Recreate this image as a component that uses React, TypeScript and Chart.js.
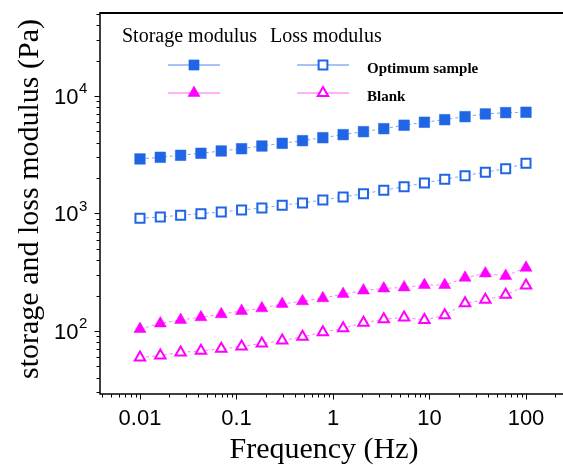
import React, { useEffect, useRef } from "react";
import { Chart, registerables } from "chart.js";
import { drawPoint } from "chart.js/helpers";

Chart.register(...registerables);

// ---- data ----
const frequency = [
  0.01, 0.01624, 0.02637, 0.04281, 0.06952, 0.1129, 0.1833, 0.2976, 0.4833, 0.7848,
  1.274, 2.069, 3.36, 5.456, 8.859, 14.38, 23.36, 37.93, 61.58, 100,
];
const storageOptimum = [
  2911, 3007, 3126, 3251, 3403, 3558, 3750, 3953, 4165, 4415,
  4686, 4968, 5268, 5633, 5973, 6285, 6665, 7030, 7213, 7264,
];
const lossOptimum = [
  910, 933, 965, 996, 1030, 1071, 1114, 1175, 1229, 1303,
  1381, 1474, 1575, 1691, 1819, 1955, 2098, 2242, 2406, 2674,
];
const storageBlank = [
  104, 116, 124, 131, 139, 148, 156, 170, 179, 190,
  206, 221, 230, 235, 246, 246, 284, 309, 294, 345,
];
const lossBlank = [
  59.4, 61.9, 65.6, 67.8, 70.5, 73.8, 78.3, 83, 89.2, 97.7,
  105.6, 117.5, 126, 130, 124, 136, 172, 184, 203, 244,
];

const xTickValues = [0.01, 0.1, 1, 10, 100];
const xTickLabels = ["0.01", "0.1", "1", "10", "100"];
const yTickValues = [100, 1000, 10000];
const yTickBase = "10";
const yTickExponents = ["2", "3", "4"];

const xTitle = "Frequency (Hz)";
const yTitle = "storage and loss modulus (Pa)";
const legendHeaders = ["Storage modulus", "Loss modulus"];
const legendLabels = ["Optimum sample", "Blank"];

const X_MIN = 0.003851;
const X_MAX = 241.8;
const Y_MIN = 29.1;
const Y_MAX = 50800;

const BLUE = "rgb(32,102,228)";
const BLUE_LINE = "rgba(110,155,240,0.9)";
const BLUE_LEGEND = "rgb(140,175,245)";
const MAGENTA = "rgb(255,0,255)";
const MAGENTA_LINE = "rgba(255,110,255,0.9)";
const MAGENTA_LEGEND = "rgb(255,150,255)";

const SERIF = "'Liberation Serif', 'Times New Roman', serif";
const SANS = "'Liberation Sans', Arial, sans-serif";

function toPoints(ys: number[]) {
  return ys.map((y, i) => ({ x: frequency[i], y }));
}

const decorPlugin = {
  id: "decor",
  afterDraw(chart: any) {
    const ctx: CanvasRenderingContext2D = chart.ctx;
    const area = chart.chartArea;
    const xs = chart.scales.x;
    const ys = chart.scales.y;
    ctx.save();

    // frame lines
    ctx.strokeStyle = "#000";
    ctx.lineWidth = 2;
    ctx.beginPath();
    ctx.moveTo(area.left, area.top);
    ctx.lineTo(area.right, area.top);
    ctx.stroke();
    ctx.lineWidth = 1.5;
    ctx.beginPath();
    ctx.moveTo(area.left, area.top - 1);
    ctx.lineTo(area.left, area.bottom);
    ctx.lineTo(area.right, area.bottom);
    ctx.stroke();

    // ticks
    ctx.lineWidth = 1;
    ctx.strokeStyle = "#000";
    for (let e = -3; e <= 2; e++) {
      for (let m = 1; m <= 9; m++) {
        const v = m * Math.pow(10, e);
        if (v < X_MIN || v > X_MAX) continue;
        const px = Math.round(xs.getPixelForValue(v)) + 0.5;
        const len = m === 1 ? 5.5 : 3.5;
        ctx.beginPath();
        ctx.moveTo(px, area.bottom);
        ctx.lineTo(px, area.bottom + len);
        ctx.stroke();
      }
    }
    for (let e = 1; e <= 4; e++) {
      for (let m = 1; m <= 9; m++) {
        const v = m * Math.pow(10, e);
        if (v < Y_MIN || v > Y_MAX) continue;
        const py = Math.round(ys.getPixelForValue(v)) + 0.5;
        const len = m === 1 ? 5.5 : 3.5;
        ctx.beginPath();
        ctx.moveTo(area.left, py);
        ctx.lineTo(area.left - len, py);
        ctx.stroke();
      }
    }

    // tick labels
    ctx.fillStyle = "#000";
    ctx.font = `22px ${SANS}`;
    ctx.textAlign = "center";
    ctx.textBaseline = "alphabetic";
    xTickValues.forEach((v, i) => {
      ctx.fillText(xTickLabels[i], xs.getPixelForValue(v), 425);
    });
    yTickValues.forEach((v, i) => {
      const py = ys.getPixelForValue(v);
      ctx.font = `22px ${SANS}`;
      ctx.textAlign = "right";
      ctx.fillText(yTickBase, 78.5, py + 8);
      ctx.font = `15px ${SANS}`;
      ctx.textAlign = "left";
      ctx.fillText(yTickExponents[i], 79, py - 2.5);
    });

    // axis titles
    ctx.font = `30px ${SERIF}`;
    ctx.textAlign = "center";
    ctx.fillStyle = "#000";
    ctx.fillText(xTitle, 324, 458);
    ctx.save();
    ctx.translate(38, 199);
    ctx.rotate(-Math.PI / 2);
    ctx.fillText(yTitle, 0, 0);
    ctx.restore();

    // legend
    ctx.font = `20px ${SERIF}`;
    ctx.textAlign = "left";
    ctx.fillText(legendHeaders[0], 122, 42);
    ctx.fillText(legendHeaders[1], 270, 42);

    const rows = [
      { y: 65, lineColor: BLUE_LEGEND, color: BLUE, style: "rect", rFill: 7.2, rOpen: 6.2 },
      { y: 93, lineColor: MAGENTA_LEGEND, color: MAGENTA, style: "triangle", rFill: 7, rOpen: 6 },
    ];
    rows.forEach((row, i) => {
      ctx.strokeStyle = row.lineColor;
      ctx.lineWidth = 1.5;
      ctx.beginPath();
      ctx.moveTo(168, row.y);
      ctx.lineTo(220, row.y);
      ctx.moveTo(297, row.y);
      ctx.lineTo(349, row.y);
      ctx.stroke();
      // filled
      ctx.fillStyle = row.color;
      ctx.strokeStyle = row.color;
      ctx.lineWidth = 0.5;
      drawPoint(ctx, { pointStyle: row.style as any, radius: row.rFill, rotation: 0, borderWidth: 0.5 } as any, 194, row.y);
      // open
      ctx.fillStyle = "#fff";
      ctx.strokeStyle = row.color;
      ctx.lineWidth = 2;
      drawPoint(ctx, { pointStyle: row.style as any, radius: row.rOpen, rotation: 0, borderWidth: 2 } as any, 323, row.y);
      ctx.fillStyle = "#000";
      ctx.font = `bold 15px ${SERIF}`;
      ctx.fillText(legendLabels[i], 367, row.y + 8);
    });

    ctx.restore();
  },
};

export default function App() {
  const canvasRef = useRef<HTMLCanvasElement | null>(null);

  useEffect(() => {
    document.body.style.margin = "0";
    const canvas = canvasRef.current;
    if (!canvas) return;
    const chart = new Chart(canvas, {
      type: "scatter",
      data: {
        datasets: [
          {
            label: "Storage modulus - Optimum sample",
            data: toPoints(storageOptimum),
            showLine: true,
            borderColor: BLUE_LINE,
            borderWidth: 1,
            borderDash: [3, 3],
            pointStyle: "rect",
            pointRadius: 7.5,
            pointBackgroundColor: BLUE,
            pointBorderColor: BLUE,
            pointBorderWidth: 0.5,
          },
          {
            label: "Loss modulus - Optimum sample",
            data: toPoints(lossOptimum),
            showLine: true,
            borderColor: BLUE_LINE,
            borderWidth: 1,
            borderDash: [3, 3],
            pointStyle: "rect",
            pointRadius: 6.4,
            pointBackgroundColor: "#fff",
            pointBorderColor: BLUE,
            pointBorderWidth: 2,
          },
          {
            label: "Storage modulus - Blank",
            data: toPoints(storageBlank),
            showLine: true,
            borderColor: MAGENTA_LINE,
            borderWidth: 1,
            borderDash: [3, 3],
            pointStyle: "triangle",
            pointRadius: 7,
            pointBackgroundColor: MAGENTA,
            pointBorderColor: MAGENTA,
            pointBorderWidth: 0.5,
          },
          {
            label: "Loss modulus - Blank",
            data: toPoints(lossBlank),
            showLine: true,
            borderColor: MAGENTA_LINE,
            borderWidth: 1,
            borderDash: [3, 3],
            pointStyle: "triangle",
            pointRadius: 6,
            pointBackgroundColor: "#fff",
            pointBorderColor: MAGENTA,
            pointBorderWidth: 2,
          },
        ],
      },
      options: {
        animation: false,
        responsive: false,
        devicePixelRatio: 1,
        layout: { autoPadding: false, padding: { top: 13, left: 0, right: 0, bottom: 0 } },
        plugins: { legend: { display: false }, tooltip: { enabled: false } },
        scales: {
          x: {
            type: "logarithmic",
            min: X_MIN,
            max: X_MAX,
            grid: { display: false },
            border: { display: false },
            ticks: { display: false },
            afterFit: (s: any) => {
              s.height = 71;
            },
          },
          y: {
            type: "logarithmic",
            min: Y_MIN,
            max: Y_MAX,
            grid: { display: false },
            border: { display: false },
            ticks: { display: false },
            afterFit: (s: any) => {
              s.width = 100;
            },
          },
        },
      },
      plugins: [decorPlugin],
    });
    return () => chart.destroy();
  }, []);

  return (
    <div style={{ position: "fixed", left: 0, top: 0, width: 563, height: 465, background: "#fff" }}>
      <canvas ref={canvasRef} width={563} height={465} style={{ display: "block" }} />
    </div>
  );
}
